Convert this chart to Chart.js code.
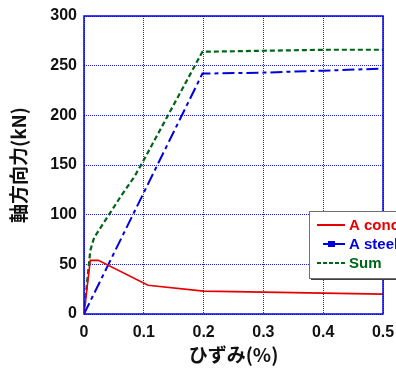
<!DOCTYPE html>
<html>
<head>
<meta charset="utf-8">
<script src="https://cdn.jsdelivr.net/npm/chart.js@4/dist/chart.umd.min.js"></script>
<style>
  html, body { margin: 0; padding: 0; background: #fff; }
  #wrap { width: 396px; height: 369px; position: relative; }
</style>
</head>
<body>
<div id="wrap"><canvas id="axialChart"></canvas></div>
<script>
// strain (%) vs axial force (kN)
const concreteStrain = [0, 0.0105, 0.024, 0.107, 0.2, 0.3, 0.4, 0.5];
const concreteForce = [0, 54, 54, 29, 23, 22, 21, 20];

const steelStrain = [0, 0.198, 0.3, 0.4, 0.5];
const steelForce = [0, 242, 243, 245, 247];

const sumStrain = [0, 0.0105, 0.017, 0.031, 0.044, 0.061, 0.084, 0.1, 0.198, 0.3, 0.4, 0.5];
const sumForce = [0, 64, 77, 90, 102, 118, 138, 155, 264, 265, 266, 266];

const xTicks = [0, 0.1, 0.2, 0.3, 0.4, 0.5];
const yTicks = [0, 50, 100, 150, 200, 250, 300];

const seriesNames = ['A concrete', 'A steel', 'Sum'];

const RED = 'rgb(230, 0, 0)';
const BLUE = 'rgb(0, 0, 225)';
const GREEN = 'rgb(0, 100, 25)';

function toPoints(xs, ys) {
    return xs.map((x, i) => ({ x: x, y: ys[i] }));
}

const tickFont = { family: '"Liberation Sans", Arial, sans-serif', size: 16, weight: 'bold' };
const titleFont = { family: '"Noto Sans CJK JP", "Liberation Sans", sans-serif', size: 19, weight: 'bold' };

// frame around the plot area
const framePlugin = {
    id: 'frame',
    afterDatasetsDraw(chart) {
        const { ctx, chartArea: a } = chart;
        ctx.save();
        ctx.strokeStyle = 'rgb(0, 0, 230)';
        ctx.lineWidth = 1.5;
        ctx.strokeRect(a.left, a.top, a.right - a.left, a.bottom - a.top);
        ctx.restore();
    }
};

// boxed legend, partly off the right edge like the original
const legendBoxPlugin = {
    id: 'legendBox',
    afterDraw(chart) {
        const ctx = chart.ctx;
        const bx = 309, by = 211, bw = 100, bh = 67;
        ctx.save();
        ctx.fillStyle = '#404040';
        ctx.fillRect(bx + 2, by + 2, bw, bh);
        ctx.fillStyle = '#fff';
        ctx.fillRect(bx, by, bw, bh);
        ctx.strokeStyle = '#707070';
        ctx.lineWidth = 1;
        ctx.strokeRect(bx + 0.5, by + 0.5, bw, bh);

        const colors = [RED, BLUE, GREEN];
        const dashes = [[], [], [4, 2]];
        const rowY = [225, 244, 263];
        ctx.font = 'bold 15px "Liberation Sans", Arial, sans-serif';
        ctx.textBaseline = 'middle';
        seriesNames.forEach((name, i) => {
            ctx.strokeStyle = colors[i];
            ctx.lineWidth = 2;
            ctx.setLineDash(dashes[i]);
            ctx.beginPath();
            ctx.moveTo(i === 1 ? 323 : 317, rowY[i]);
            ctx.lineTo(345, rowY[i]);
            ctx.stroke();
            ctx.setLineDash([]);
            if (i === 1) {
                ctx.fillStyle = BLUE;
                ctx.fillRect(328, rowY[i] - 3, 7, 6);
            }
            ctx.fillStyle = colors[i];
            ctx.fillText(name, 349, rowY[i] + 1);
        });
        ctx.restore();
    }
};

const ctx = document.getElementById('axialChart');
new Chart(ctx, {
    type: 'line',
    data: {
        datasets: [
            {
                label: seriesNames[0],
                data: toPoints(concreteStrain, concreteForce),
                borderColor: RED,
                borderWidth: 1.6,
                pointRadius: 0,
                tension: 0
            },
            {
                label: seriesNames[1],
                data: toPoints(steelStrain, steelForce),
                borderColor: BLUE,
                borderWidth: 2,
                borderDash: [12, 4, 4, 4],
                pointRadius: 0,
                tension: 0
            },
            {
                label: seriesNames[2],
                data: toPoints(sumStrain, sumForce),
                borderColor: GREEN,
                borderWidth: 2.2,
                borderDash: [5, 3],
                pointRadius: 0,
                tension: 0
            }
        ]
    },
    options: {
        responsive: true,
        maintainAspectRatio: false,
        animation: false,
        layout: { padding: { left: 0, top: 16, right: 13, bottom: 0 } },
        plugins: {
            legend: { display: false },
            tooltip: { enabled: false }
        },
        scales: {
            x: {
                type: 'linear',
                min: 0,
                max: 0.5,
                afterBuildTicks(scale) {
                    scale.ticks = xTicks.map(v => ({ value: v }));
                },
                afterFit(scale) {
                    scale.height = 55;
                    scale.paddingLeft = 0;
                    scale.paddingRight = 0;
                },
                grid: {
                    color: 'rgb(30, 30, 255)',
                    lineWidth: 1,
                    drawTicks: false
                },
                border: { display: false, dash: [1, 1] },
                ticks: {
                    color: '#111',
                    font: tickFont,
                    padding: 9,
                    maxRotation: 0,
                    callback: v => (v === 0 ? '0' : v.toFixed(1))
                },
                title: {
                    display: true,
                    text: 'ひずみ(%)',
                    color: '#111',
                    font: titleFont,
                    padding: { top: 0, bottom: 3 }
                }
            },
            y: {
                type: 'linear',
                min: 0,
                max: 300,
                afterBuildTicks(scale) {
                    scale.ticks = yTicks.map(v => ({ value: v }));
                },
                afterFit(scale) {
                    scale.width = 84;
                    scale.paddingTop = 0;
                    scale.paddingBottom = 0;
                },
                grid: {
                    color: 'rgb(30, 30, 255)',
                    lineWidth: 1,
                    drawTicks: false
                },
                border: { display: false, dash: [1, 1] },
                ticks: {
                    color: '#111',
                    font: tickFont,
                    padding: 7
                },
                title: {
                    display: true,
                    text: '軸方向力(kN)',
                    color: '#111',
                    font: titleFont,
                    padding: { top: 7, bottom: 0 }
                }
            }
        }
    },
    plugins: [framePlugin, legendBoxPlugin]
});
</script>
</body>
</html>
